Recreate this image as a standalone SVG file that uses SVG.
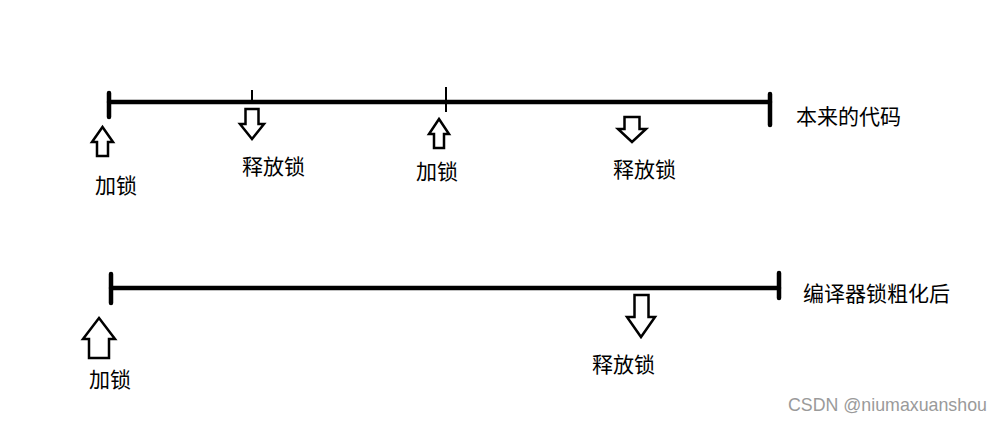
<svg xmlns="http://www.w3.org/2000/svg" width="1001" height="421" viewBox="0 0 1001 421">
<style>
.axis{stroke:#000;stroke-width:4.5;stroke-linecap:round;fill:none}
.tick{stroke:#000;stroke-width:2;fill:none}
.arrow{stroke:#000;stroke-width:2.5;fill:#fff;stroke-linejoin:miter}
.lbl{font-family:"Noto Sans CJK SC","Liberation Sans",sans-serif;font-size:21px;fill:#000}
.wm{font-family:"Liberation Sans",Arial,sans-serif;font-size:17.8px;fill:#9a9a9a}
</style>
<rect width="1001" height="421" fill="#fff"/>
<g id="connectors">
<g id="timeline-original">
<line class="axis" x1="109" y1="102" x2="770" y2="102"/>
<line class="axis" x1="109" y1="93" x2="109" y2="117"/>
<line class="axis" x1="770" y1="94" x2="770" y2="125"/>
<line class="tick" x1="252" y1="90" x2="252" y2="104"/>
<line class="tick" x1="446" y1="87" x2="446" y2="112"/>
</g>
<g id="timeline-coarsened">
<line class="axis" x1="111" y1="288" x2="779" y2="288"/>
<line class="axis" x1="111" y1="274" x2="111" y2="303"/>
<line class="axis" x1="779" y1="273" x2="779" y2="298"/>
</g>
</g>
<g id="lock1">
<polygon class="arrow" points="102.5,127 113,142 108,142 108,156 97,156 97,142 92,142"/>
<text class="lbl" x="95" y="193">加锁</text>
</g>
<g id="unlock1">
<polygon class="arrow" points="245.5,109 258.5,109 258.5,124 264,124 252,139 240,124 245.5,124"/>
<text class="lbl" x="242" y="174">释放锁</text>
</g>
<g id="lock2">
<polygon class="arrow" points="439,119 449,134 444,134 444,148 434,148 434,134 429,134"/>
<text class="lbl" x="416" y="179">加锁</text>
</g>
<g id="unlock2">
<polygon class="arrow" points="624.5,117 639.5,117 639.5,129 646,129 632,142 618,129 624.5,129"/>
<text class="lbl" x="613" y="177">释放锁</text>
</g>
<g id="label-original">
<text class="lbl" x="796" y="124">本来的代码</text>
</g>
<g id="lock3">
<polygon class="arrow" points="99,318 115,339 109,339 109,358 89,358 89,339 83,339"/>
<text class="lbl" x="89" y="387">加锁</text>
</g>
<g id="unlock3">
<polygon class="arrow" points="634.5,295 648.5,295 648.5,317 655,317 641,337 627,317 634.5,317"/>
<text class="lbl" x="592" y="372">释放锁</text>
</g>
<g id="label-coarsened">
<text class="lbl" x="803" y="301">编译器锁粗化后</text>
</g>
<text class="wm" x="788" y="411">CSDN @niumaxuanshou</text>
</svg>
